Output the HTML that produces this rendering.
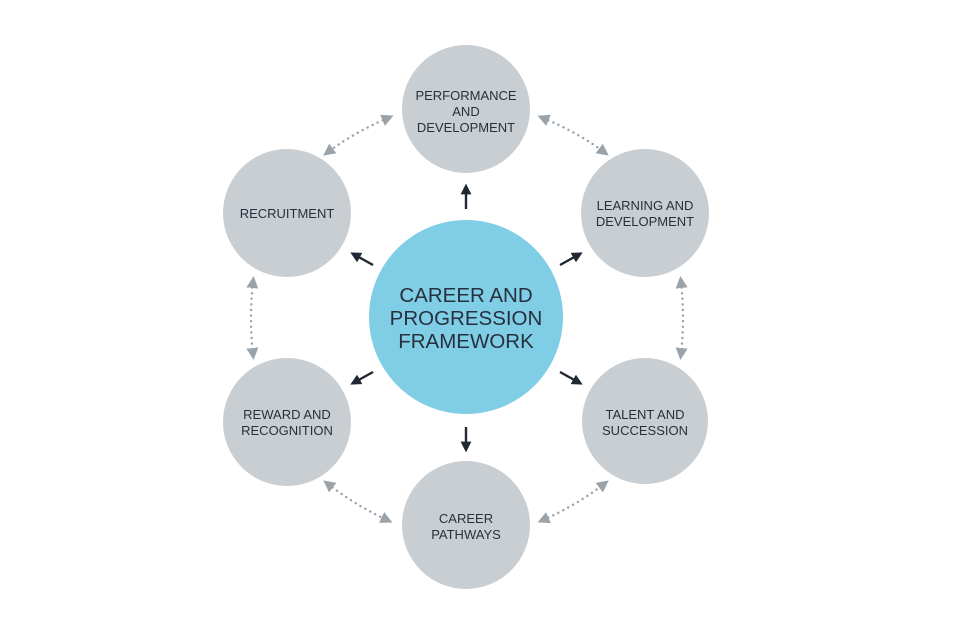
<!DOCTYPE html>
<html><head><meta charset="utf-8"><style>
html,body{margin:0;padding:0;background:#fff;}
svg{display:block;}
text{font-family:"Liberation Sans",Arial,sans-serif;fill:#27303d;text-anchor:middle;}
.s{font-size:13px;}
.b{font-size:20.5px;}
</style></head><body>
<svg width="960" height="640" viewBox="0 0 960 640" xmlns="http://www.w3.org/2000/svg">
<defs>
<marker id="da" viewBox="0 0 10 10" refX="5" refY="5" markerWidth="5" markerHeight="5" orient="auto-start-reverse" markerUnits="strokeWidth">
<path d="M0,0 L10,5 L0,10 z" fill="#9ba3aa"/></marker>
<marker id="ka" viewBox="0 0 10 10" refX="5" refY="5" markerWidth="4.5" markerHeight="4.5" orient="auto" markerUnits="strokeWidth">
<path d="M0,0 L10,5 L0,10 z" fill="#1f2833"/></marker>
</defs>
<g fill="#c9ced2">
<circle cx="466" cy="109" r="64"/>
<circle cx="287" cy="213" r="64"/>
<circle cx="645" cy="213" r="64"/>
<circle cx="287" cy="422" r="64"/>
<circle cx="645" cy="421" r="63"/>
<circle cx="466" cy="525" r="64"/>
</g>
<circle cx="466" cy="317" r="97" fill="#80cde6"/>
<g stroke="#9ba3aa" stroke-width="2.4" stroke-dasharray="0.1 5.5" stroke-linecap="round" fill="none" marker-start="url(#da)" marker-end="url(#da)">
<path d="M388,118 Q355,132 328,152"/>
<path d="M543,118 Q577,132 604,152"/>
<path d="M253,282 Q249,318 253,354"/>
<path d="M681,282 Q685,318 681,354"/>
<path d="M328,484 Q355,505 387,520"/>
<path d="M543,520 Q577,505 604,484"/>
</g>
<g stroke="#1f2833" stroke-width="2.4" fill="none" marker-end="url(#ka)">
<line x1="466" y1="209" x2="466" y2="189"/>
<line x1="373" y1="265" x2="355" y2="255"/>
<line x1="560" y1="265" x2="578" y2="255"/>
<line x1="373" y1="372" x2="355" y2="382"/>
<line x1="560" y1="372" x2="578" y2="382"/>
<line x1="466" y1="427" x2="466" y2="447"/>
</g>
<text class="s" x="466" y="100">PERFORMANCE</text>
<text class="s" x="466" y="116">AND</text>
<text class="s" x="466" y="132">DEVELOPMENT</text>
<text class="s" x="287" y="218">RECRUITMENT</text>
<text class="s" x="645" y="210">LEARNING AND</text>
<text class="s" x="645" y="226">DEVELOPMENT</text>
<text class="s" x="287" y="419">REWARD AND</text>
<text class="s" x="287" y="435">RECOGNITION</text>
<text class="s" x="645" y="419">TALENT AND</text>
<text class="s" x="645" y="435">SUCCESSION</text>
<text class="s" x="466" y="523">CAREER</text>
<text class="s" x="466" y="539">PATHWAYS</text>
<text class="b" x="466" y="302">CAREER AND</text>
<text class="b" x="466" y="325">PROGRESSION</text>
<text class="b" x="466" y="348">FRAMEWORK</text>
</svg>
</body></html>
